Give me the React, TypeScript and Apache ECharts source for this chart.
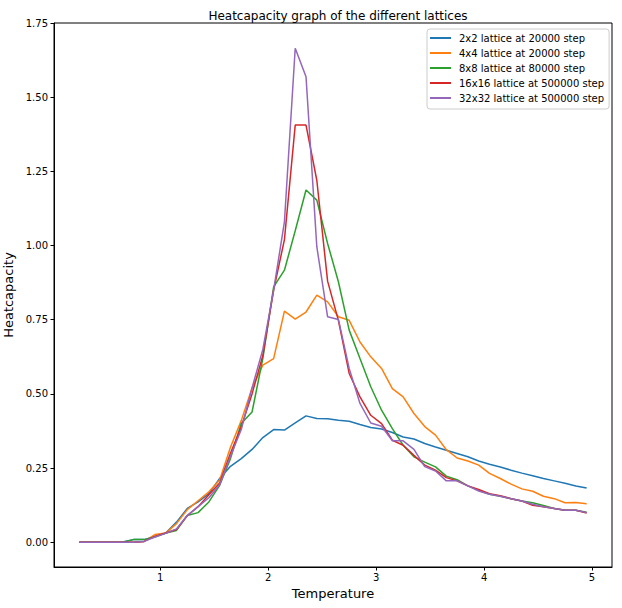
import { useEffect, useRef } from 'react'
import * as echarts from 'echarts'

const temperatures = [
  0.25, 0.35, 0.45, 0.55, 0.65, 0.75, 0.85, 0.95, 1.05, 1.15, 1.25, 1.35,
  1.45, 1.55, 1.65, 1.75, 1.85, 1.95, 2.05, 2.15, 2.25, 2.35, 2.45, 2.55,
  2.65, 2.75, 2.85, 2.95, 3.05, 3.15, 3.25, 3.35, 3.45, 3.55, 3.65, 3.75,
  3.85, 3.95, 4.05, 4.15, 4.25, 4.35, 4.45, 4.55, 4.65, 4.75, 4.85, 4.95,
]

const lattice2 = [
  0, 0, 0, 0, 0.001, 0.009, 0.009, 0.02, 0.031, 0.068, 0.114, 0.136,
  0.164, 0.215, 0.256, 0.282, 0.313, 0.353, 0.38, 0.378, 0.402, 0.426, 0.417, 0.416,
  0.411, 0.408, 0.397, 0.387, 0.382, 0.37, 0.355, 0.348, 0.333, 0.321, 0.31, 0.299,
  0.288, 0.274, 0.263, 0.254, 0.243, 0.233, 0.224, 0.215, 0.207, 0.199, 0.19, 0.183,
]

const lattice4 = [
  0, 0, 0, 0, 0, 0, 0.003, 0.026, 0.031, 0.063, 0.11, 0.14,
  0.17, 0.21, 0.32, 0.41, 0.52, 0.597, 0.619, 0.779, 0.752, 0.776, 0.833, 0.81,
  0.76, 0.748, 0.675, 0.625, 0.586, 0.518, 0.49, 0.434, 0.39, 0.361, 0.312, 0.284,
  0.274, 0.26, 0.232, 0.215, 0.196, 0.18, 0.172, 0.155, 0.147, 0.133, 0.134, 0.13,
]

const lattice8 = [
  0, 0, 0, 0, 0, 0.009, 0.009, 0.018, 0.031, 0.04, 0.09, 0.1,
  0.136, 0.192, 0.282, 0.4, 0.439, 0.62, 0.861, 0.917, 1.05, 1.187, 1.153, 1.007,
  0.878, 0.715, 0.619, 0.524, 0.445, 0.383, 0.327, 0.288, 0.27, 0.254, 0.223, 0.211,
  0.19, 0.175, 0.162, 0.155, 0.147, 0.139, 0.133, 0.124, 0.114, 0.108, 0.108, 0.101,
]

const lattice16 = [
  0, 0, 0, 0, 0, 0, 0.003, 0.02, 0.031, 0.043, 0.09, 0.12,
  0.16, 0.2, 0.3, 0.389, 0.5, 0.63, 0.85, 1.02, 1.406, 1.406, 1.22, 0.88,
  0.748, 0.569, 0.49, 0.428, 0.4, 0.344, 0.327, 0.293, 0.26, 0.243, 0.218, 0.207,
  0.19, 0.178, 0.164, 0.157, 0.147, 0.139, 0.125, 0.12, 0.114, 0.108, 0.108, 0.099,
]

const lattice32 = [
  0, 0, 0, 0, 0, 0, 0.003, 0.018, 0.03, 0.045, 0.09, 0.12,
  0.15, 0.194, 0.29, 0.38, 0.52, 0.65, 0.85, 1.08, 1.665, 1.569, 0.996, 0.76,
  0.751, 0.586, 0.468, 0.402, 0.391, 0.342, 0.342, 0.313, 0.255, 0.24, 0.207, 0.207,
  0.19, 0.173, 0.162, 0.155, 0.147, 0.139, 0.128, 0.12, 0.114, 0.108, 0.108, 0.1,
]

const seriesNames = [
  '2x2 lattice at 20000 step',
  '4x4 lattice at 20000 step',
  '8x8 lattice at 80000 step',
  '16x16 lattice at 500000 step',
  '32x32 lattice at 500000 step',
]
const seriesValues = [lattice2, lattice4, lattice8, lattice16, lattice32]
const colors = ['#1f77b4', '#ff7f0e', '#2ca02c', '#d62728', '#9467bd']

const xTicks = [1, 2, 3, 4, 5]
const yTicks = [0, 0.25, 0.5, 0.75, 1, 1.25, 1.5, 1.75]

const font = 'DejaVu Sans'

export default function App() {
  const chartRef = useRef<HTMLDivElement>(null)

  useEffect(() => {
    if (!chartRef.current) return
    const chart = echarts.init(chartRef.current, null, { renderer: 'svg' })

    chart.setOption({
      animation: false,
      backgroundColor: '#fff',
      color: colors,
      title: {
        text: 'Heatcapacity graph of the different lattices',
        left: 333,
        top: 5,
        textAlign: 'center',
        textStyle: { fontFamily: font, fontSize: 12, fontWeight: 'normal', color: '#000' },
      },
      legend: {
        orient: 'vertical',
        left: 427,
        top: 29,
        icon: 'rect',
        itemWidth: 21,
        itemHeight: 2,
        itemGap: 3,
        padding: [3, 5, 5, 3],
        borderColor: '#ccc',
        borderWidth: 1,
        borderRadius: 3,
        textStyle: { fontFamily: font, fontSize: 10, color: '#000', lineHeight: 12, padding: [0, 0, 0, 3] },
        data: seriesNames,
      },
      grid: {
        left: 54,
        right: 10,
        top: 23,
        bottom: 41,
        outerBoundsMode: 'none',
        containLabel: false,
        show: true,
        borderColor: '#000',
        borderWidth: 1,
        backgroundColor: 'transparent',
      },
      xAxis: {
        type: 'value',
        min: 0.015,
        max: 5.185,
        name: 'Temperature',
        nameLocation: 'middle',
        nameGap: 19,
        nameTextStyle: { fontFamily: font, fontSize: 13, color: '#000' },
        axisLine: { show: true, onZero: false, lineStyle: { color: '#000', width: 1 } },
        axisTick: { show: true, length: 3.5, customValues: xTicks, lineStyle: { color: '#000' } },
        axisLabel: { customValues: xTicks, margin: 5, fontFamily: font, fontSize: 10, color: '#000' },
        splitLine: { show: false },
      },
      yAxis: {
        type: 'value',
        min: -0.0833,
        max: 1.75,
        name: 'Heatcapacity',
        nameLocation: 'middle',
        nameGap: 35,
        nameTextStyle: { fontFamily: font, fontSize: 13, color: '#000' },
        axisLine: { show: true, onZero: false, lineStyle: { color: '#000', width: 1 } },
        axisTick: { show: true, length: 3.5, customValues: yTicks, lineStyle: { color: '#000' } },
        axisLabel: {
          customValues: yTicks,
          margin: 6,
          fontFamily: font,
          fontSize: 10,
          color: '#000',
          formatter: (v: number) => v.toFixed(2),
        },
        splitLine: { show: false },
      },
      series: seriesNames.map((name, i) => ({
        name,
        type: 'line',
        symbol: 'none',
        lineStyle: { width: 1.5, color: colors[i] },
        itemStyle: { color: colors[i] },
        data: temperatures.map((t, j) => [t, seriesValues[i][j]]),
      })),
    })

    return () => {
      chart.dispose()
    }
  }, [])

  return (
    <div
      ref={chartRef}
      style={{ position: 'fixed', left: 0, top: 0, width: 622, height: 608, background: '#fff' }}
    />
  )
}
